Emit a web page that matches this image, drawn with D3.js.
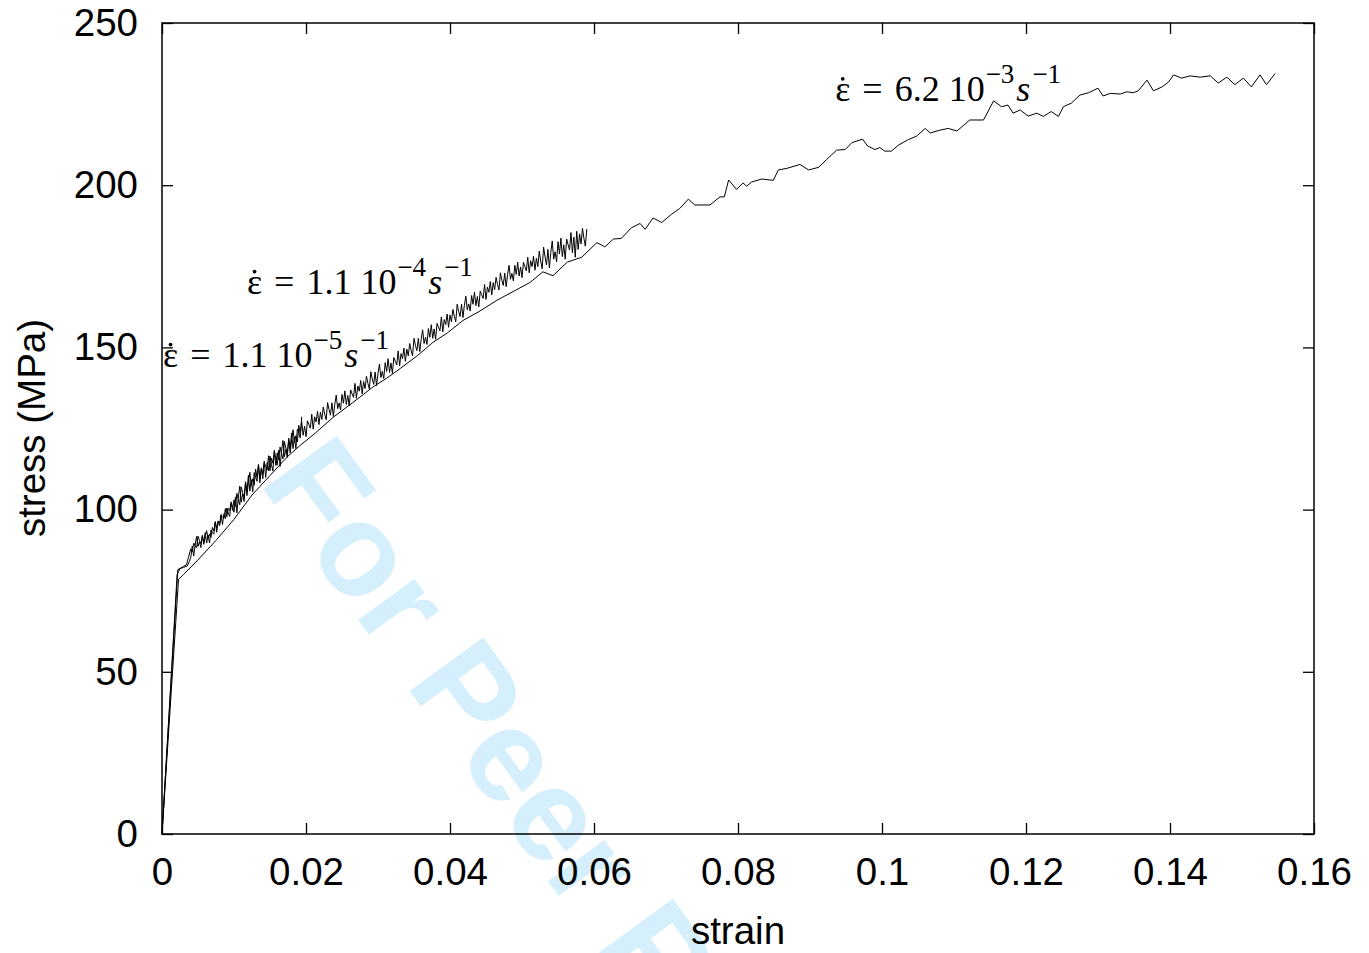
<!DOCTYPE html>
<html>
<head>
<meta charset="utf-8">
<script src="https://cdn.jsdelivr.net/npm/d3@7"></script>
<style>
  html, body { margin: 0; padding: 0; background: #fff; }
  svg { display: block; }
</style>
</head>
<body>
<svg id="chart" width="1369" height="953"></svg>
<script>
// ---------------- data ----------------
// strain-rate 6.2e-3 s^-1 : [strain, stress MPa]
const fastData = [
  [0,0],[0.0023,78.5],[0.003,80],[0.005,84.5],[0.0075,90.5],[0.01,97],[0.0125,104.5],[0.015,110.5],
  [0.0175,116.5],[0.0192,119.8],[0.0213,123.6],[0.0238,128.5],[0.0265,133],[0.0293,137.8],[0.0312,140.5],
  [0.0331,143.5],[0.0355,147.5],[0.0376,151.5],[0.0396,154.4],[0.0418,158.3],[0.044,161],[0.0465,164.5],
  [0.049,167.5],[0.0511,170],[0.0529,173.3],[0.0543,172.1],[0.0563,176.3],[0.0583,177.8],[0.0604,182.3],
  [0.0615,181],[0.0627,183.4],[0.0638,183.6],[0.0652,186.9],[0.0664,188.2],[0.0671,186.4],[0.0682,189.9],
  [0.0694,188.5],[0.0708,191.1],[0.0719,192.8],[0.0731,195.7],[0.074,193.9],[0.0761,193.9],[0.0775,196.4],
  [0.0781,196.4],[0.0787,201.6],[0.0798,198.7],[0.0807,200.7],[0.0812,199.7],[0.0819,201],[0.0833,201.9],
  [0.0849,201.5],[0.0856,204.7],[0.0868,205.2],[0.0886,206.4],[0.0898,204.7],[0.0912,205.5],[0.0923,207.9],
  [0.0937,210.8],[0.0949,211],[0.0958,213.1],[0.0973,214.2],[0.098,212.1],[0.099,211],[0.0997,211.6],
  [0.1004,210.5],[0.1013,210.5],[0.1023,212.4],[0.1037,214.1],[0.1048,215.1],[0.106,217.5],[0.1067,216.1],
  [0.1081,217],[0.1092,217.5],[0.1104,216.7],[0.1122,220.1],[0.1141,220.1],[0.1155,226],[0.1166,224.2],
  [0.1175,224.7],[0.1182,222.2],[0.1192,223.2],[0.1203,221.3],[0.1215,222.2],[0.1224,221.2],[0.1235,222.7],
  [0.1245,221.2],[0.1252,224.2],[0.1263,225.3],[0.1275,227.8],[0.1287,228.5],[0.13,229.9],[0.1307,227.5],
  [0.1317,228.3],[0.1331,228.1],[0.134,228.8],[0.1349,228.5],[0.1356,229.1],[0.1368,232.4],[0.1377,229.1],
  [0.1389,230.3],[0.1398,231.8],[0.1405,234],[0.1416,233],[0.1428,233.7],[0.1442,233.3],[0.1456,233.7],
  [0.1467,231.5],[0.1479,233.3],[0.149,231],[0.1502,233],[0.1513,230.3],[0.1525,234],[0.1534,231],[0.1546,234.4]
];
// strain-rate 1.1e-4 s^-1
const midData = [
  [0,0],[0.0022,81.5],[0.0026,82],[0.003,82.5],[0.0034,83],[0.0037,85.5],
  [0.004,87.9],[0.0042,87],[0.0044,89.7],[0.0046,88.8],[0.0048,88.2],[0.005,91.8],[0.0052,90.5],[0.0054,89.5],
  [0.0056,91.8],[0.0058,89.3],[0.006,91.6],[0.0062,93.5],[0.0064,91.2],[0.0066,92.5],[0.0068,91.4],[0.007,94.5],
  [0.0072,93.4],[0.0074,96.2],[0.0076,94.2],[0.0078,96.4],[0.008,95],[0.0082,98.2],[0.0084,97.8],[0.0086,97.4],
  [0.0088,100.3],[0.009,97.8],[0.0092,100.4],[0.0094,99.7],[0.0096,102],[0.0098,99.8],
  [0.01,103],[0.0102,101],[0.0104,105],[0.0106,103],[0.0108,101.5],[0.011,107],[0.0112,105.2],[0.0114,103.9],
  [0.0116,108.1],[0.0118,104.3],[0.012,108.5],[0.0122,111.5],[0.0124,107.5],[0.0126,109.5],[0.0128,107.5],
  [0.013,112.5],[0.0132,109.9],[0.0134,113.8],[0.0136,109.7],[0.0138,112.6],[0.014,109.5],[0.0142,114.4],
  [0.0144,113.3],[0.0146,112.2],[0.0148,116.6],[0.015,112],[0.0152,115.9],[0.0154,114.3],[0.0156,117.7],
  [0.0158,113.6],[0.016,117.5],[0.0162,115.4],[0.0164,119.3],[0.0166,117.2],[0.0168,115.6],[0.017,121],
  [0.0172,119],[0.0174,117.5],[0.0176,121.5],[0.0178,117.5],[0.018,121.5],[0.0182,124.6],[0.0184,120.7],
  [0.0186,122.8],[0.0188,120.9],[0.019,126],[0.0192,123.3],[0.0194,127.1],[0.0196,122.9],[0.0198,125.7],
  [0.02,122.5],[0.0202,127.4],[0.0204,126.2],[0.0206,125.1],[0.0208,129.4],[0.021,124.8],[0.0212,128.6],
  [0.0214,127],[0.0216,130.3],[0.0218,126.2],[0.022,130],[0.0222,127.8],[0.0224,131.6],[0.0226,129.4],
  [0.0228,127.7],[0.023,133],[0.0232,130.8],[0.0234,129.1],[0.0236,132.9],[0.0238,128.7],[0.024,132.5],
  [0.0242,135.3],[0.0244,131.1],[0.0246,132.9],[0.0248,130.7],[0.025,135.5],[0.0252,132.8],[0.0254,136.6],
  [0.0256,132.4],[0.0258,135.2],[0.026,132],[0.0262,136.9],[0.0264,135.7],[0.0266,134.6],[0.0268,138.9],
  [0.027,134.3],[0.0272,138.1],[0.0274,136.5],[0.0276,139.8],[0.0278,135.7],[0.028,139.5],[0.0282,137.3],
  [0.0284,141.1],[0.0286,138.9],[0.0288,137.2],[0.029,142.5],[0.0292,140.3],[0.0294,138.6],[0.0296,142.4],
  [0.0298,138.2],[0.03,142],[0.0302,144.9],[0.0304,140.7],[0.0306,142.6],[0.0308,140.4],[0.031,145.3],
  [0.0312,142.6],[0.0314,146.5],[0.0316,142.3],[0.0318,145.2],[0.032,142],[0.0322,146.9],[0.0324,145.7],
  [0.0326,144.6],[0.0328,148.9],[0.033,144.3],[0.0332,148.1],[0.0334,146.5],[0.0336,149.8],[0.0338,145.7],
  [0.034,149.5],[0.0342,147.4],[0.0344,151.2],[0.0346,149.1],[0.0348,147.4],[0.035,152.8],[0.0352,150.6],
  [0.0354,149],[0.0356,152.8],[0.0358,148.7],[0.036,152.5],[0.0362,155.4],[0.0364,151.2],[0.0366,153.1],
  [0.0368,150.9],[0.037,155.8],[0.0372,153.1],[0.0374,157],[0.0376,152.8],[0.0378,155.7],[0.038,152.5],
  [0.0382,157.4],[0.0384,156.2],[0.0386,155.1],[0.0388,159.4],[0.039,154.8],[0.0392,158.6],[0.0394,157],
  [0.0396,160.3],[0.0398,156.2],[0.04,160],[0.0402,157.9],[0.0404,161.7],[0.0406,159.6],[0.0408,157.9],
  [0.041,163.3],[0.0412,161.1],[0.0414,159.5],[0.0416,163.3],[0.0418,159.2],[0.042,163],[0.0422,165.8],
  [0.0424,161.6],[0.0426,163.4],[0.0428,161.2],[0.043,166],[0.0432,163.3],[0.0434,167.1],[0.0436,162.9],
  [0.0438,165.7],[0.044,162.5],[0.0442,167.4],[0.0444,166.2],[0.0446,165.1],[0.0448,169.4],[0.045,164.8],
  [0.0452,168.6],[0.0454,167],[0.0456,170.3],[0.0458,166.2],[0.046,170],[0.0462,167.8],[0.0464,171.6],
  [0.0466,169.4],[0.0468,167.7],[0.047,173],[0.0472,170.8],[0.0474,169.1],[0.0476,172.9],[0.0478,168.7],
  [0.048,172.5],[0.0482,175.3],[0.0484,171],[0.0486,172.8],[0.0488,170.5],[0.049,175.3],[0.0492,172.5],
  [0.0494,176.3],[0.0496,172],[0.0498,174.8],[0.05,171.5],[0.0502,176.2],[0.0504,174.9],[0.0506,173.6],
  [0.0508,177.8],[0.051,173],[0.0512,176.7],[0.0514,174.9],[0.0516,178.1],[0.0518,173.8],[0.052,177.5],
  [0.0522,174.9],[0.0524,179.7],[0.0526,176.6],[0.0528,174.2],[0.053,180.9],[0.0532,177.9],[0.0534,175.4],
  [0.0536,180.2],[0.0538,174.5],[0.054,179.3],[0.0542,182.8],[0.0544,177.2],[0.0546,179.5],[0.0548,176.4],
  [0.055,182.6],[0.0552,178.8],[0.0554,183.7],[0.0556,178],[0.0558,181.6],[0.056,177.2],[0.0562,183.4],
  [0.0564,181.7],[0.0566,180],[0.0568,185.4],[0.057,179.2],[0.0572,184],[0.0574,177.8],[0.0576,185.8],
  [0.0578,180.2],[0.058,185],[0.0582,181.9],[0.0584,186.7],[0.0586,183.6],[0.0588,181.2],[0.059,186.5]
];
// strain-rate 1.1e-5 s^-1
const slowData = [
  [0,0],[0.0021,80],[0.0025,81.8],[0.003,82.2],[0.0035,82.6],[0.0038,84],
  [0.004,85.3],[0.0042,88.7],[0.0044,85.7],[0.0046,89.1],[0.0048,91.7],[0.005,88.7],[0.0052,90.1],[0.0054,88.3],
  [0.0056,92.1],[0.0058,89.9],[0.006,92.9],[0.0062,89.7],[0.0064,92.1],[0.0066,89.7],[0.0068,93.7],[0.007,92.9],
  [0.0072,92.4],[0.0074,96.3],[0.0076,93],[0.0078,96.5],[0.008,95.6],[0.0082,98.5],[0.0084,95.4],[0.0086,98.7],
  [0.0088,97.2],[0.009,100.5],[0.0092,99],[0.0094,97.9],[0.0096,102.4],[0.0098,100.9],
  [0.01,99.2],[0.0102,103.9],[0.0104,99],[0.0106,103.7],[0.0108,107.2],[0.011,102.3],[0.0112,104.8],
  [0.0114,102.5],[0.0116,108.6],[0.0118,105.7],[0.012,110.6],[0.0122,105.7],[0.0124,109.2],[0.0126,105.5],
  [0.0128,111.4],[0.013,110.1],[0.0132,108.7],[0.0134,113.9],[0.0136,108.3],[0.0138,112.9],[0.014,110.9],
  [0.0142,114.9],[0.0144,109.9],[0.0146,114.5],[0.0148,111.9],[0.015,116.5],[0.0152,113.9],[0.0154,111.9],
  [0.0156,118.3],[0.0158,115.7],[0.016,113.7],[0.0162,118.3],[0.0164,113.3],[0.0166,117.9],[0.0168,121.3],
  [0.017,116.3],[0.0172,118.6],[0.0174,116.1],[0.0176,122],[0.0178,118.9],[0.018,123.6],[0.0182,118.8],
  [0.0184,122.4],[0.0186,118.8],[0.0188,124.8],[0.019,123.6],[0.0192,122.1],[0.0194,128.6]
];
const xTicks = [0, 0.02, 0.04, 0.06, 0.08, 0.1, 0.12, 0.14, 0.16];
const xTickLabels = ["0", "0.02", "0.04", "0.06", "0.08", "0.1", "0.12", "0.14", "0.16"];
const yTicks = [0, 50, 100, 150, 200, 250];
const yTickLabels = ["0", "50", "100", "150", "200", "250"];
const rateMantissa = ["6.2", "1.1", "1.1"];
const rateExponent = ["3", "4", "5"];
const xTitle = "strain";
const yTitle = "stress (MPa)";
const watermark = "For Peer Review";

// ---------------- drawing ----------------
const svg = d3.select("#chart");
const L = 162, R = 1314, T = 23, B = 834;
const x = d3.scaleLinear().domain([0, 0.16]).range([L, R]);
const y = d3.scaleLinear().domain([0, 250]).range([B, T]);

// watermark (behind everything)
svg.append("text")
  .attr("transform", "translate(258,482) rotate(54)")
  .attr("font-family", "'Liberation Sans', Arial, sans-serif")
  .attr("font-weight", "bold")
  .attr("font-size", 132)
  .attr("fill", "#d5f0fc")
  .text(watermark);

const tickFont = "'Liberation Sans', Arial, Helvetica, sans-serif";
const fs = 38.5;

const xAxis = d3.axisBottom(x).tickValues(xTicks)
  .tickFormat((d, i) => xTickLabels[i]).tickSizeInner(-11).tickSizeOuter(0).tickPadding(24);
const yAxis = d3.axisLeft(y).tickValues(yTicks)
  .tickFormat((d, i) => yTickLabels[i]).tickSizeInner(-11).tickSizeOuter(0).tickPadding(24);
const xAxisTop = d3.axisTop(x).tickValues(xTicks).tickFormat("").tickSizeInner(-11).tickSizeOuter(0);
const yAxisRight = d3.axisRight(y).tickValues(yTicks).tickFormat("").tickSizeInner(-11).tickSizeOuter(0);

function styleAxis(g) {
  g.selectAll(".domain").remove();
  g.selectAll(".tick line").attr("stroke", "#000").attr("stroke-width", 1.3);
  g.selectAll(".tick text").attr("font-family", tickFont).attr("font-size", fs).attr("fill", "#000");
}
svg.append("g").attr("transform", `translate(0,${B})`).call(xAxis).call(styleAxis);
svg.append("g").attr("transform", `translate(${L},0)`).call(yAxis).call(styleAxis);
svg.append("g").attr("transform", `translate(0,${T})`).call(xAxisTop).call(styleAxis);
svg.append("g").attr("transform", `translate(${R},0)`).call(yAxisRight).call(styleAxis);

// frame
svg.append("rect").attr("x", L).attr("y", T).attr("width", R - L).attr("height", B - T)
  .attr("fill", "none").attr("stroke", "#000").attr("stroke-width", 1.5);

// curves
const line = d3.line().x(d => x(d[0])).y(d => y(d[1]));
[[fastData, 1.0], [midData, 1.0], [slowData, 1.0]].forEach(([data, w]) => {
  svg.append("path").datum(data).attr("d", line)
    .attr("fill", "none").attr("stroke", "#000").attr("stroke-width", w)
    .attr("stroke-linejoin", "miter");
});

// axis titles
svg.append("text").attr("x", 738).attr("y", 944).attr("text-anchor", "middle")
  .attr("font-family", tickFont).attr("font-size", fs).text(xTitle);
svg.append("text").attr("transform", "translate(45,428) rotate(-90)").attr("text-anchor", "middle")
  .attr("font-family", tickFont).attr("font-size", fs).text(yTitle);

// strain-rate labels
const serif = "'Liberation Serif', 'Times New Roman', serif";
const lfs = 36, sfs = 27, raise = 18;
function rateLabel(sx, sy, mant, expo) {
  const px = x(sx), py = y(sy);
  const t = svg.append("text").attr("x", px).attr("y", py)
    .attr("font-family", serif).attr("font-size", lfs).attr("fill", "#000");
  t.append("tspan").text("\u03B5");
  t.append("tspan").attr("dx", 12).text("=");
  t.append("tspan").attr("dx", 12).text(mant + " 10");
  t.append("tspan").attr("font-size", sfs).attr("dx", 1).attr("dy", -raise).text("\u2212" + expo);
  t.append("tspan").attr("font-style", "italic").attr("dx", 2).attr("dy", raise).text("s");
  t.append("tspan").attr("font-size", sfs).attr("dx", 2).attr("dy", -raise).text("\u22121");
  const w = t.node().getSubStringLength(0, 1);
  svg.append("circle").attr("cx", px + w / 2).attr("cy", py - lfs * 0.62).attr("r", 1.9).attr("fill", "#000");
}
rateLabel(0.0935, 225.9, rateMantissa[0], rateExponent[0]);
rateLabel(0.0118, 166.5, rateMantissa[1], rateExponent[1]);
rateLabel(0.00014, 144.0, rateMantissa[2], rateExponent[2]);
</script>
</body>
</html>
